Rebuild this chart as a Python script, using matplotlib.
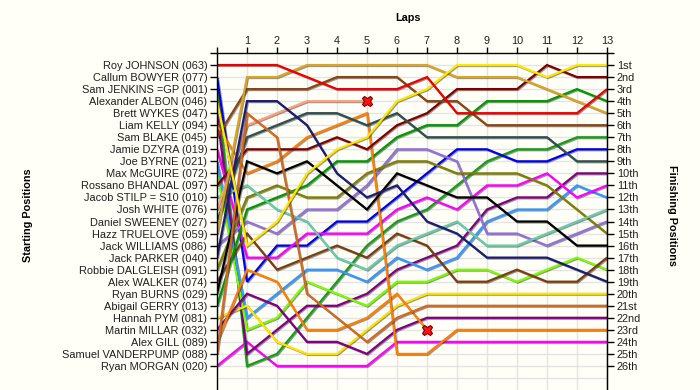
import matplotlib
matplotlib.use("Agg")
import matplotlib.pyplot as plt
import matplotlib.patheffects as pe

plt.rcParams['font.family'] = ['Liberation Sans', 'DejaVu Sans']

# ---------------- data ----------------
laps = list(range(0, 14))
lap_labels = [""] + [str(i) for i in range(1, 14)]

start_labels = [
    "Roy JOHNSON (063)", "Callum BOWYER (077)", "Sam JENKINS =GP (001)",
    "Alexander ALBON (046)", "Brett WYKES (047)", "Liam KELLY (094)",
    "Sam BLAKE (045)", "Jamie DZYRA (019)", "Joe BYRNE (021)",
    "Max McGUIRE (072)", "Rossano BHANDAL (097)", "Jacob STILP = S10 (010)",
    "Josh WHITE (076)", "Daniel SWEENEY (027)", "Hazz TRUELOVE (059)",
    "Jack WILLIAMS (086)", "Jack PARKER (040)", "Robbie DALGLEISH (091)",
    "Alex WALKER (074)", "Ryan BURNS (029)", "Abigail GERRY (013)",
    "Hannah PYM (081)", "Martin MILLAR (032)", "Alex GILL (089)",
    "Samuel VANDERPUMP (088)", "Ryan MORGAN (020)",
]
finish_labels = ["1st", "2nd", "3rd"] + [f"{i}th" for i in range(4, 21)] + \
    ["21st", "22nd", "23rd", "24th", "25th", "26th"]

# positions per lap (lap 0 = start)
pos_red        = [1, 1, 1, 2, 3, 3, 3, 2, 5, 5, 5, 5, 5, 3]
pos_goldenrod  = [15, 2, 2, 1, 1, 1, 1, 1, 2, 2, 2, 3, 4, 5]
pos_brown      = [7, 3, 3, 3, 2, 2, 2, 4, 4, 6, 6, 6, 6, 6]
pos_navy       = [17, 4, 4, 6, 10, 12, 11, 14, 15, 17, 17, 17, 18, 19]
pos_chocolate  = [25, 5, 7, 20, 22, 24, 22, 21, 21, 21, 21, 21, 21, 21]
pos_salmon     = [13, 6, 5, 4, 4, 4]
pos_slate      = [14, 7, 6, 5, 5, 6, 5, 7, 7, 7, 7, 7, 9, 9]
pos_maroon     = [11, 8, 8, 8, 7, 8, 6, 5, 3, 3, 3, 1, 2, 2]
pos_black      = [20, 9, 10, 9, 11, 13, 10, 11, 12, 12, 14, 14, 16, 16]
pos_darkorange = [6, 10, 9, 7, 6, 5, 25, 25, 23, 23, 23, 23, 23, 23]
pos_aqua       = [12, 11, 13, 14, 17, 18, 16, 15, 14, 16, 16, 15, 14, 13]
pos_olive      = [18, 12, 11, 12, 12, 10, 9, 9, 10, 10, 10, 11, 13, 15]
pos_green_a    = [21, 13, 12, 11, 9, 9, 7, 6, 6, 4, 4, 4, 3, 4]
pos_lavender   = [16, 14, 15, 13, 13, 11, 8, 8, 9, 15, 15, 16, 15, 14]
pos_brown2     = [19, 15, 18, 17, 16, 17, 15, 16, 19, 19, 18, 19, 19, 17]
pos_yellow_a   = [4, 16, 14, 10, 8, 7, 4, 3, 1, 1, 1, 2, 1, 1]
pos_magenta_a  = [8, 17, 17, 15, 15, 15, 13, 12, 13, 11, 11, 10, 12, 11]
pos_orange2    = [24, 18, 19, 23, 23, 22, 20, 23]
pos_blue       = [2, 19, 16, 16, 14, 14, 12, 10, 8, 8, 9, 9, 8, 8]
pos_purple_d   = [23, 20, 21, 24, 24, 25, 23, 22, 22, 22, 22, 22, 22, 22]
pos_yellow_b   = [22, 21, 24, 25, 25, 23, 21, 20, 20, 20, 20, 20, 20, 20]
pos_dodger     = [9, 22, 20, 18, 18, 19, 17, 18, 17, 14, 13, 13, 11, 12]
pos_lawn       = [10, 23, 22, 19, 20, 21, 19, 19, 18, 18, 19, 18, 17, 18]
pos_magenta_b  = [26, 24, 26, 26, 26, 26, 24, 24, 24, 24, 24, 24, 24, 24]
pos_purple_c   = [5, 25, 23, 21, 21, 20, 18, 17, 16, 13, 12, 12, 10, 10]
pos_green_b    = [3, 26, 25, 22, 19, 16, 14, 13, 11, 9, 8, 8, 7, 7]

series = [
    (pos_magenta_b, "#FF00FF"), (pos_green_b, "#14A014"), (pos_purple_c, "#800080"),
    (pos_lawn, "#7CFC00"), (pos_dodger, "#3399FF"), (pos_yellow_b, "#FFE400"),
    (pos_purple_d, "#800080"), (pos_blue, "#0000EE"), (pos_orange2, "#FF8000"),
    (pos_magenta_a, "#FF00FF"), (pos_brown2, "#7B3F0F"), (pos_lavender, "#9370DB"),
    (pos_green_a, "#009900"), (pos_olive, "#808000"), (pos_aqua, "#66CDAA"),
    (pos_darkorange, "#FF7F00"), (pos_black, "#000000"), (pos_maroon, "#800000"),
    (pos_slate, "#2F4F4F"), (pos_salmon, "#FFA07A"), (pos_chocolate, "#D2691E"),
    (pos_navy, "#1C1C70"), (pos_brown, "#8B4513"), (pos_goldenrod, "#DAA520"),
    (pos_yellow_a, "#FFE800"), (pos_red, "#EE0000"),
]
retired = [pos_salmon, pos_orange2]

# ---------------- figure ----------------
bg = "#FFFFF7"
fig = plt.figure(figsize=(7.0, 3.9), dpi=100, facecolor=bg)
ax = fig.add_axes([217 / 700, 0.0, 390 / 700, 337 / 390], facecolor=bg)

ax.set_xlim(0, 13)
ax.set_ylim(28, 0)

for x in laps:
    ax.axvline(x, color="#E4E4E4", lw=1.0, zorder=0)
for y in range(1, 28):
    ax.axhline(y, color="#E4E4E4", lw=1.0, zorder=0)

shadow = [pe.SimpleLineShadow(offset=(0.7, -0.7), shadow_color="#303030", alpha=0.5),
          pe.Normal()]
for vals, col in series:
    ax.plot(range(len(vals)), vals, color=col, lw=1.6, solid_joinstyle="miter",
            solid_capstyle="butt", path_effects=shadow, zorder=2)

for vals in retired:
    ax.plot([len(vals) - 1], [vals[-1]], marker="X", ms=7.5, mfc="#FF1010",
            mec="#7A0000", mew=0.8, zorder=5, linestyle="none")

# axes styling
for s in ["left", "right", "top"]:
    ax.spines[s].set_color("black")
    ax.spines[s].set_linewidth(1.0)
ax.spines["bottom"].set_visible(False)

txt = "#202020"
ax.xaxis.tick_top()
ax.set_xticks(laps)
ax.set_xticklabels(lap_labels, fontsize=7.8, color=txt)
ax.tick_params(axis="x", direction="out", length=4, width=1, pad=1, colors="black",
               labelcolor=txt, bottom=False)

ax.set_yticks(range(0, 27))
ax.set_yticklabels([""] + start_labels, fontsize=7.9, color=txt)
ax.tick_params(axis="y", direction="out", length=5, width=1, pad=2, labelcolor=txt)

ax2 = ax.twinx()
ax2.set_ylim(28, 0)
ax2.set_yticks(range(0, 27))
ax2.set_yticklabels([""] + finish_labels, fontsize=7.9, color=txt)
ax2.tick_params(axis="y", direction="out", length=5, width=1, pad=2, labelcolor=txt)
for s in ["left", "bottom", "top"]:
    ax2.spines[s].set_visible(False)
ax2.spines["right"].set_color("black")

fig.text(408 / 700, 1 - 18 / 390, "Laps", ha="center", va="center",
         fontsize=7.8, fontweight="bold", color="black")
fig.text(28 / 700, 1 - 215 / 390, "Starting Positions", rotation=90, ha="center",
         va="center", fontsize=7.8, fontweight="bold", color="black")
fig.text(672 / 700, 1 - 215 / 390, "Finishing Positions", rotation=270, ha="center",
         va="center", fontsize=7.8, fontweight="bold", color="black")

fig.savefig("out.png", dpi=100, facecolor=bg)
